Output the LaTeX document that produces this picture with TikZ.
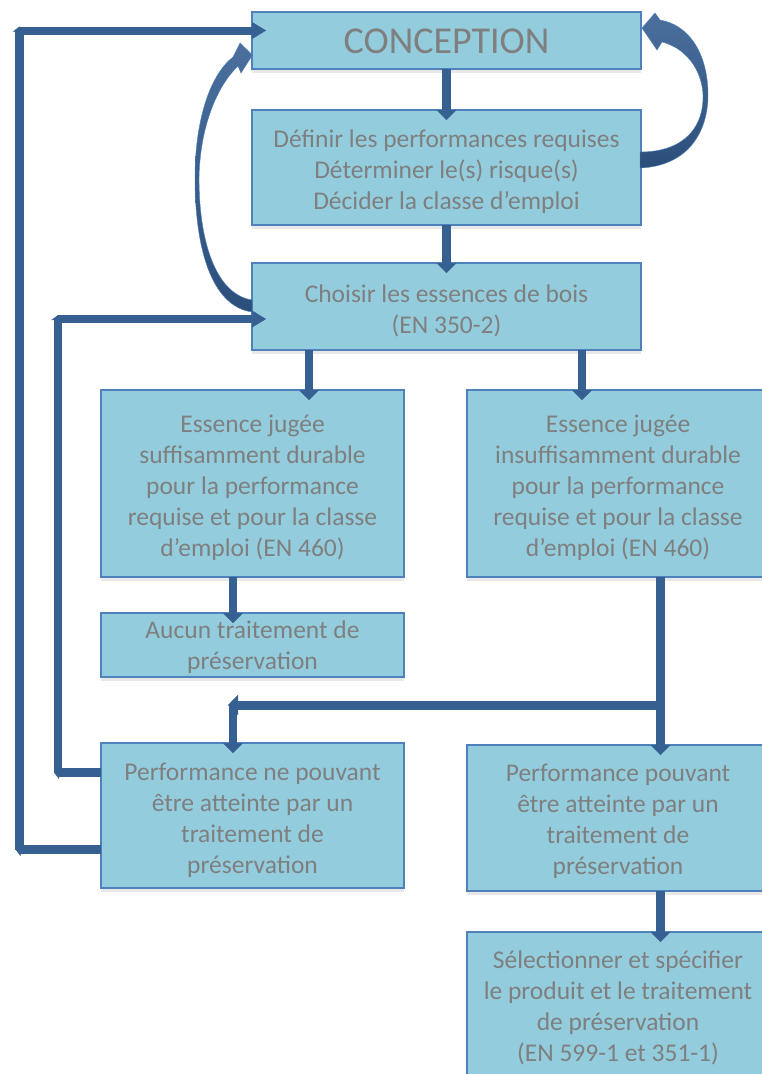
\documentclass[tikz,border=0pt]{standalone}
\usepackage{fontspec}
\setmainfont{Carlito}
\usetikzlibrary{arrows.meta,shadows}
\definecolor{boxfill}{HTML}{93CDDD}
\definecolor{boxline}{HTML}{4F81BD}
\definecolor{txt}{HTML}{7F7F7F}
\definecolor{arr}{HTML}{376092}
\definecolor{arrdk}{HTML}{2B4E7A}
\newcommand{\boxtxt}[2][5pt]{\raisebox{-#1}[\height][\depth]{\begin{tabular}{@{}c@{}}#2\end{tabular}}}
\begin{document}
\begin{tikzpicture}[x=1pt,y=-1pt,
  box/.style={draw=boxline, line width=1.3pt, fill=boxfill, text=txt, align=center,
    inner sep=0pt, outer sep=0pt, font=\fontsize{25.5}{31}\selectfont,
    drop shadow={shadow xshift=0pt,shadow yshift=-4pt,opacity=0.18}},
  varr/.style={draw=arr, line width=8.5pt, -{Triangle[width=20pt,length=10pt,line width=0.5pt]}, shorten >=-10pt},
  harr/.style={draw=arr, line width=8pt, -{Triangle[width=17pt,length=14pt,line width=0.5pt]}, shorten >=-14pt},
  segtip/.style={draw=arr, line width=8.5pt, -{Triangle[width=13pt,length=5pt,line width=0.5pt]}, shorten >=-4pt},
  leftarr/.style={draw=arr, line width=9pt, -{Triangle[width=20pt,length=10pt,line width=0.5pt]}}
]
\useasboundingbox (0,0) rectangle (762,1074);
\clip (0,0) rectangle (762,1074);
\fill[white] (0,0) rectangle (762,1074);

% boxes
\node[box, minimum width=389pt, minimum height=57pt, font=\fontsize{38}{44}\selectfont] (concep) at (446.5,40.5) {\boxtxt[4pt]{CONCEPTION}};
\node[box, minimum width=389pt, minimum height=115pt] (def) at (446.5,167.5) {\boxtxt{Définir les performances requises\\Déterminer le(s) risque(s)\\Décider la classe d’emploi}};
\node[box, minimum width=389pt, minimum height=87pt] (cho) at (446.5,306.5) {\boxtxt{Choisir les essences de bois\\(EN 350-2)}};
\node[box, minimum width=303pt, minimum height=187pt] (suf) at (252.5,483.5) {\boxtxt{Essence jugée\\suffisamment durable\\pour la performance\\requise et pour la classe\\d’emploi (EN 460)}};
\node[box, minimum width=302pt, minimum height=187pt] (insuf) at (618,483.5) {\boxtxt{Essence jugée\\insuffisamment durable\\pour la performance\\requise et pour la classe\\d’emploi (EN 460)}};
\node[box, minimum width=303pt, minimum height=64pt] (auc) at (252.5,645) {\boxtxt[3pt]{Aucun traitement de\\préservation}};
\node[box, minimum width=303pt, minimum height=145pt] (pnp) at (252.5,815.5) {\boxtxt{Performance ne pouvant\\être atteinte par un\\traitement de\\préservation}};
\node[box, minimum width=302pt, minimum height=146pt] (pp) at (618,818) {\boxtxt[4pt]{Performance pouvant\\être atteinte par un\\traitement de\\préservation}};
\node[box, minimum width=302pt, minimum height=150pt] (sel) at (618,1007) {\boxtxt[2pt]{Sélectionner et spécifier\\le produit et le traitement\\de préservation\\(EN 599-1 et 351-1)}};

% reference coordinates
\coordinate (xa) at (309,0);
\coordinate (xb) at (582,0);
\coordinate (xc) at (233,0);
\coordinate (xd) at (660.5,0);
\coordinate (c1) at (19.5,849.5);
\coordinate (c2) at (19.5,30.5);
\coordinate (c3) at (58,772.5);
\coordinate (c4) at (58,319);
\coordinate (b1) at (660.5,705);
\coordinate (b2) at (228,705);
\coordinate (b3) at (233,705);

% straight connectors
\draw[varr] (concep.south) -- (def.north);
\draw[varr] (def.south) -- (cho.north);
\draw[varr] (cho.south -| xa) -- (suf.north -| xa);
\draw[varr] (cho.south -| xb) -- (insuf.north -| xb);
\draw[varr] (suf.south -| xc) -- (auc.north -| xc);
\draw[varr] (insuf.south -| xd) -- (pp.north -| xd);
\draw[leftarr] (b1) -- (b2);
\draw[varr] (b3) -- (pnp.north -| xc);
\draw[varr] (pp.south -| xd) -- (sel.north -| xd);

% inner loop
\draw[segtip] (pnp.west |- c3) -- (c3);
\draw[segtip] (c3) -- (c4);
\draw[harr] (c4) -- (cho.west |- c4);
% outer loop
\draw[segtip] (pnp.west |- c1) -- (c1);
\draw[segtip] (c1) -- (c2);
\draw[harr] (c2) -- (concep.west |- c2);

% curved arrow left: Choisir -> CONCEPTION
\shade[top color=arr!90!white, bottom color=arrdk, draw=boxline, line width=0.4pt]
  (252,312) .. controls (210,306) and (195,245) .. (195,178)
  .. controls (195,120) and (210,75) .. (233,57)
  -- (240,43) -- (252.5,55) -- (241,73) -- (238,66)
  .. controls (218,85) and (200,125) .. (199,178)
  .. controls (199,240) and (215,294) .. (252,300) -- cycle;

% curved arrow right: Definir -> CONCEPTION
\shade[top color=arr!90!white, bottom color=arrdk, draw=boxline, line width=0.4pt]
  (640,168) .. controls (688,166) and (708,132) .. (708,95)
  .. controls (708,55) and (690,25) .. (660,20)
  -- (655,13) -- (642,28) -- (657,50) -- (662,42)
  .. controls (686,48) and (702,70) .. (703,95)
  .. controls (704,125) and (686,152) .. (640,152) -- cycle;
\end{tikzpicture}
\end{document}
